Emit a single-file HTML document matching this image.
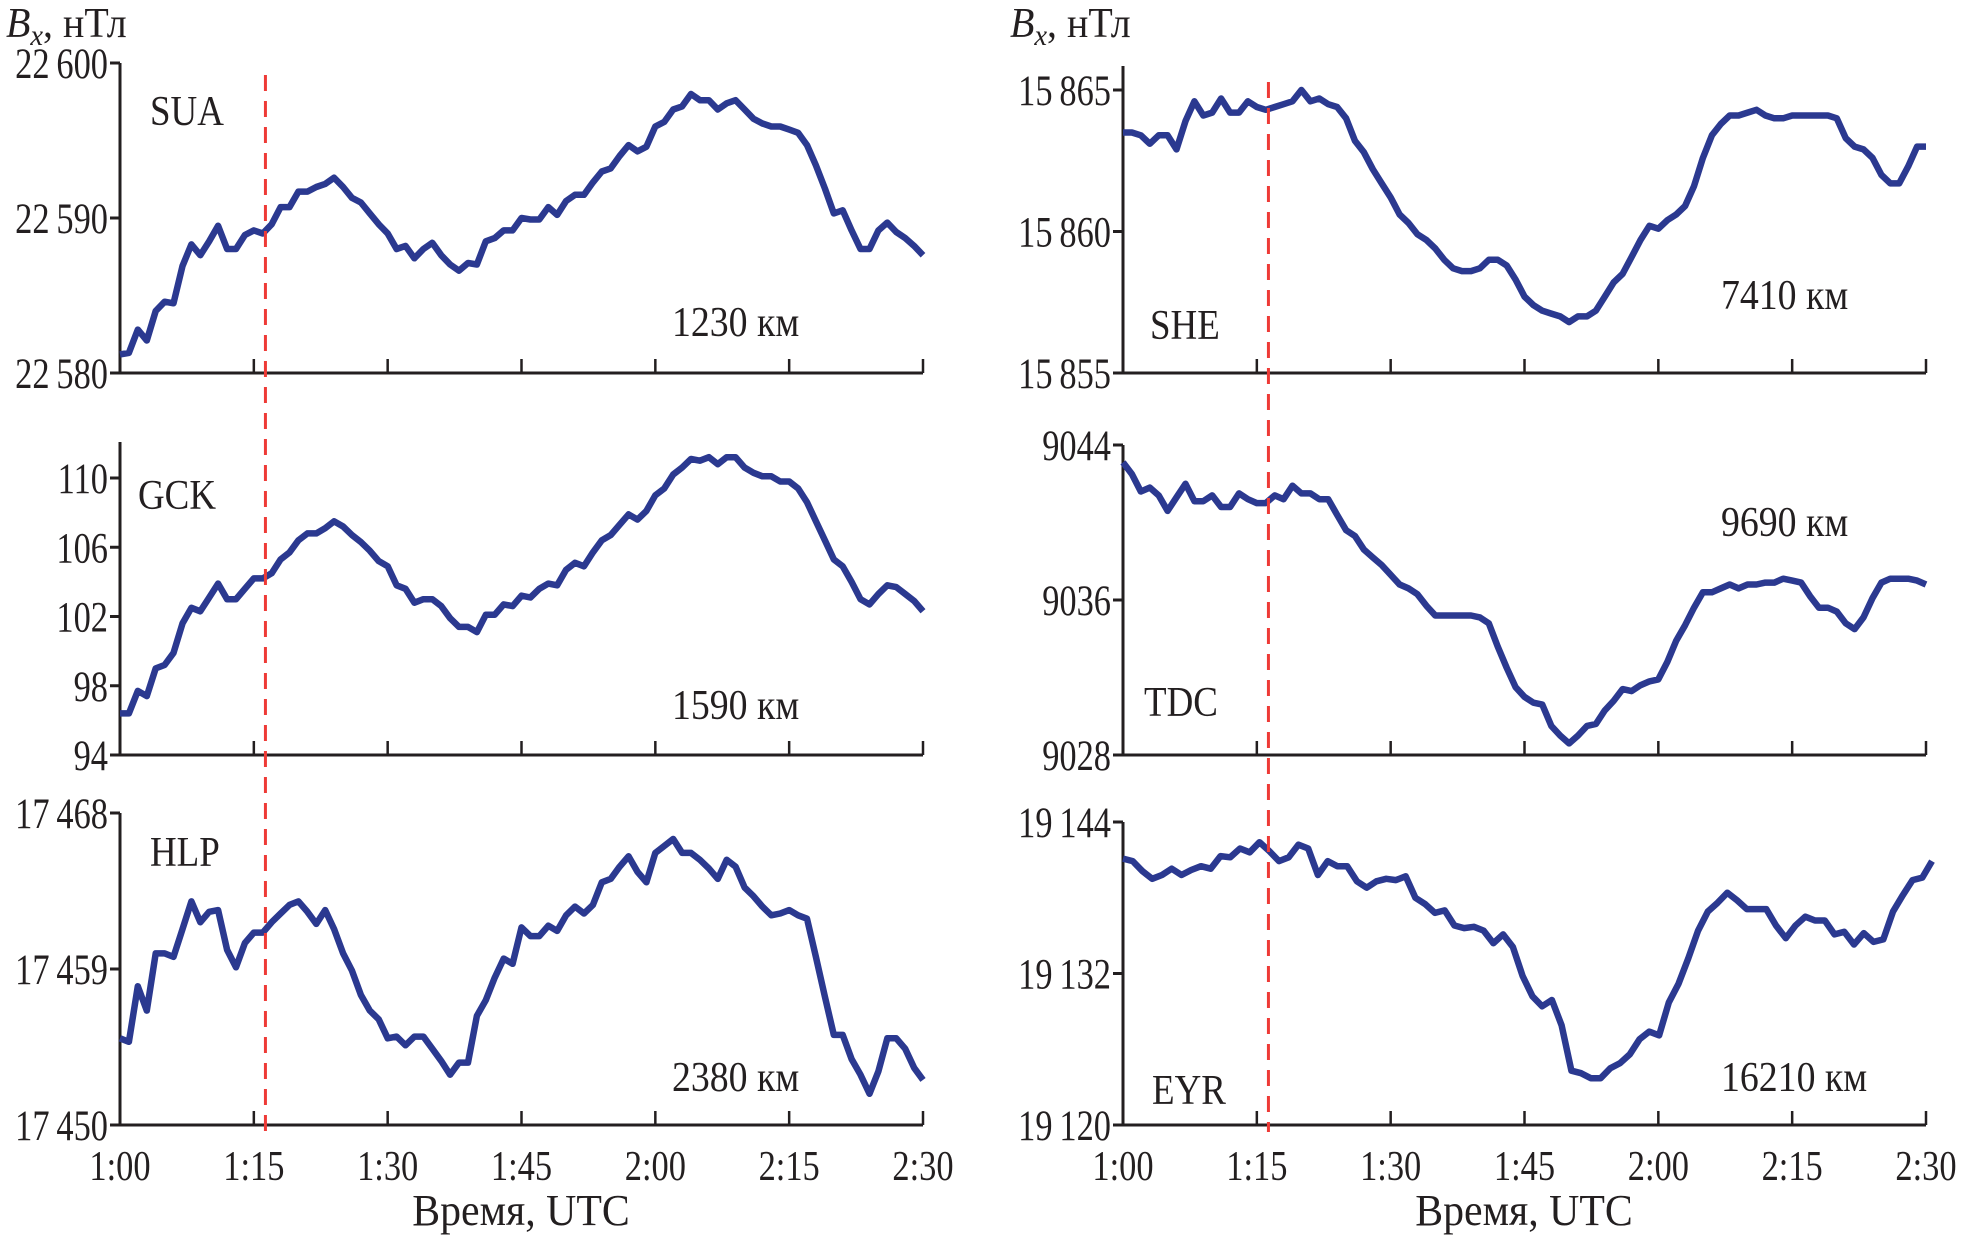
<!DOCTYPE html>
<html><head><meta charset="utf-8"><style>
html,body{margin:0;padding:0;background:#fff;}
svg{display:block;font-family:"Liberation Serif",serif;}
</style></head><body>
<svg id="c" width="1967" height="1235" viewBox="0 0 1967 1235" xmlns="http://www.w3.org/2000/svg"></svg>
<script>
const timeTicks=["1:00","1:15","1:30","1:45","2:00","2:15","2:30"];
const eventMinute=16.3;
const suaValues=[22581.2,22581.3,22582.8,22582.1,22584.0,22584.6,22584.5,22586.9,22588.3,22587.6,22588.5,22589.5,22588.0,22588.0,22588.9,22589.2,22589.0,22589.6,22590.7,22590.7,22591.7,22591.7,22592.0,22592.2,22592.6,22592.0,22591.3,22591.0,22590.3,22589.6,22589.0,22588.0,22588.2,22587.4,22588.0,22588.4,22587.6,22587.0,22586.6,22587.1,22587.0,22588.5,22588.7,22589.2,22589.2,22590.0,22589.9,22589.9,22590.7,22590.2,22591.1,22591.5,22591.5,22592.3,22593.0,22593.2,22594.0,22594.7,22594.3,22594.6,22595.9,22596.2,22597.0,22597.2,22598.0,22597.6,22597.6,22597.0,22597.4,22597.6,22597.0,22596.4,22596.1,22595.9,22595.9,22595.7,22595.5,22594.7,22593.4,22591.9,22590.3,22590.5,22589.2,22588.0,22588.0,22589.2,22589.7,22589.1,22588.7,22588.2,22587.6];
const gckValues=[96.4,96.4,97.7,97.4,99.0,99.2,99.9,101.6,102.5,102.3,103.1,103.9,103.0,103.0,103.6,104.2,104.2,104.5,105.3,105.7,106.4,106.8,106.8,107.1,107.5,107.2,106.7,106.3,105.8,105.2,104.9,103.8,103.6,102.8,103.0,103.0,102.6,101.9,101.4,101.4,101.1,102.1,102.1,102.7,102.6,103.2,103.1,103.6,103.9,103.8,104.7,105.1,104.9,105.7,106.4,106.7,107.3,107.9,107.6,108.1,109.0,109.4,110.2,110.6,111.1,111.0,111.2,110.8,111.2,111.2,110.6,110.3,110.1,110.1,109.8,109.8,109.4,108.6,107.5,106.4,105.3,104.9,104.0,103.0,102.7,103.3,103.8,103.7,103.3,102.9,102.3];
const hlpValues=[17455.0,17454.8,17458.0,17456.6,17459.9,17459.9,17459.7,17461.3,17462.9,17461.7,17462.3,17462.4,17460.1,17459.1,17460.5,17461.1,17461.1,17461.7,17462.2,17462.7,17462.9,17462.3,17461.6,17462.4,17461.3,17459.9,17458.9,17457.5,17456.6,17456.1,17455.0,17455.1,17454.6,17455.1,17455.1,17454.4,17453.7,17452.9,17453.6,17453.6,17456.3,17457.2,17458.5,17459.6,17459.3,17461.4,17460.9,17460.9,17461.5,17461.2,17462.1,17462.6,17462.2,17462.7,17464.0,17464.2,17464.9,17465.5,17464.6,17464.0,17465.7,17466.1,17466.5,17465.7,17465.7,17465.3,17464.8,17464.2,17465.3,17464.9,17463.7,17463.2,17462.6,17462.1,17462.2,17462.4,17462.1,17461.9,17459.7,17457.4,17455.2,17455.2,17453.8,17452.9,17451.8,17453.1,17455.0,17455.0,17454.4,17453.3,17452.6];
const sheValues=[15863.5,15863.5,15863.4,15863.1,15863.4,15863.4,15862.9,15863.9,15864.6,15864.1,15864.2,15864.7,15864.2,15864.2,15864.6,15864.4,15864.3,15864.4,15864.5,15864.6,15865.0,15864.6,15864.7,15864.5,15864.4,15864.0,15863.2,15862.8,15862.2,15861.7,15861.2,15860.6,15860.3,15859.9,15859.7,15859.4,15859.0,15858.7,15858.6,15858.6,15858.7,15859.0,15859.0,15858.8,15858.3,15857.7,15857.4,15857.2,15857.1,15857.0,15856.8,15857.0,15857.0,15857.2,15857.7,15858.2,15858.5,15859.1,15859.7,15860.2,15860.1,15860.4,15860.6,15860.9,15861.6,15862.6,15863.4,15863.8,15864.1,15864.1,15864.2,15864.3,15864.1,15864.0,15864.0,15864.1,15864.1,15864.1,15864.1,15864.1,15864.0,15863.3,15863.0,15862.9,15862.6,15862.0,15861.7,15861.7,15862.3,15863.0,15863.0];
const tdcValues=[9043.1,9042.5,9041.6,9041.8,9041.4,9040.6,9041.3,9042.0,9041.1,9041.1,9041.4,9040.8,9040.8,9041.5,9041.2,9041.0,9041.0,9041.4,9041.2,9041.9,9041.5,9041.5,9041.2,9041.2,9040.4,9039.6,9039.3,9038.6,9038.2,9037.8,9037.3,9036.8,9036.6,9036.3,9035.7,9035.2,9035.2,9035.2,9035.2,9035.2,9035.1,9034.8,9033.6,9032.5,9031.5,9031.0,9030.7,9030.6,9029.5,9029.0,9028.6,9029.0,9029.5,9029.6,9030.3,9030.8,9031.4,9031.3,9031.6,9031.8,9031.9,9032.8,9033.9,9034.7,9035.6,9036.4,9036.4,9036.6,9036.8,9036.6,9036.8,9036.8,9036.9,9036.9,9037.1,9037.0,9036.9,9036.2,9035.6,9035.6,9035.4,9034.8,9034.5,9035.1,9036.1,9036.9,9037.1,9037.1,9037.1,9037.0,9036.8];
const eyrValues=[19141.1,19140.9,19140.1,19139.5,19139.8,19140.3,19139.8,19140.2,19140.5,19140.3,19141.3,19141.2,19141.9,19141.6,19142.4,19141.7,19140.9,19141.2,19142.2,19141.9,19139.8,19140.9,19140.5,19140.5,19139.3,19138.8,19139.3,19139.5,19139.4,19139.7,19138.0,19137.5,19136.8,19137.0,19135.8,19135.6,19135.7,19135.4,19134.4,19135.1,19134.1,19131.8,19130.2,19129.4,19129.9,19127.9,19124.3,19124.1,19123.7,19123.7,19124.5,19124.9,19125.6,19126.8,19127.4,19127.1,19129.7,19131.2,19133.2,19135.4,19136.9,19137.6,19138.4,19137.8,19137.1,19137.1,19137.1,19135.8,19134.8,19135.8,19136.5,19136.2,19136.2,19135.1,19135.3,19134.3,19135.2,19134.5,19134.7,19136.9,19138.2,19139.4,19139.6,19140.9];
const suaTicks=[22600,22590,22580], gckTicks=[110,106,102,98,94], hlpTicks=[17468,17459,17450];
const sheTicks=[15865,15860,15855], tdcTicks=[9044,9036,9028], eyrTicks=[19144,19132,19120];

const svg=document.getElementById('c');
const NS="http://www.w3.org/2000/svg";
function mk(tag,attrs,parent){const e=document.createElementNS(NS,tag);for(const k in attrs)e.setAttribute(k,attrs[k]);(parent||svg).appendChild(e);return e;}
function txt(x,y,size,sx,anchor,parent){return mk('text',{x:0,y:0,transform:`translate(${x} ${y}) scale(${sx} 1)`,'font-size':size,'text-anchor':anchor,fill:'#231f20'},parent);}
function fmt(v){const s=String(v);return s.length>4?s.slice(0,s.length-3)+"\u2009"+s.slice(-3):s;}

const panels=[
 {id:'sua',name:'SUA',dist:'1230 км',vals:suaValues,ticks:suaTicks,x0:120,x1:923,yTop:63,yBot:373,axTop:63,lx:150,ly:125,dx:672,dy:336},
 {id:'gck',name:'GCK',dist:'1590 км',vals:gckValues,ticks:gckTicks,x0:120,x1:923,yTop:478,yBot:755,axTop:442,lx:138,ly:509,dx:672,dy:719},
 {id:'hlp',name:'HLP',dist:'2380 км',vals:hlpValues,ticks:hlpTicks,x0:120,x1:923,yTop:813,yBot:1125,axTop:813,lx:150,ly:866,dx:672,dy:1091},
 {id:'she',name:'SHE',dist:'7410 км',vals:sheValues,ticks:sheTicks,x0:1123,x1:1926,yTop:90,yBot:373,axTop:66,lx:1150,ly:339,dx:1721,dy:309},
 {id:'tdc',name:'TDC',dist:'9690 км',vals:tdcValues,ticks:tdcTicks,x0:1123,x1:1926,yTop:445,yBot:755,axTop:445,lx:1144,ly:716,dx:1721,dy:536},
 {id:'eyr',name:'EYR',dist:'16210 км',vals:eyrValues,ticks:eyrTicks,x0:1123,x1:1932,yTop:822,yBot:1125,axTop:822,lx:1152,ly:1104,dx:1721,dy:1091}
];

panels.forEach(p=>{
  const g=mk('g',{});
  
  
  const vmax=p.ticks[0], vmin=p.ticks[p.ticks.length-1];
  const xEnd=p.x0+803;
  const xs=m=>p.x0+(m/90)*803;
  const ys=v=>p.yBot-(v-vmin)/(vmax-vmin)*(p.yBot-p.yTop);
  const ax=mk('path',{d:`M${p.x0} ${p.axTop}V${p.yBot}H${xEnd}`,fill:'none',stroke:'#231f20','stroke-width':3},g);
  
  
  p.ticks.forEach(t=>{
    const y=ys(t);
    mk('line',{x1:p.x0-10,x2:p.x0,y1:y,y2:y,stroke:'#231f20','stroke-width':3},g);
    const tx=txt(p.x0-12,y+15,43,0.8,'end',g);
    tx.textContent=fmt(t);
    
    
  });
  timeTicks.forEach((t,i)=>{
    if(i===0)return;
    const x=xs(i*15);
    mk('line',{x1:x,x2:x,y1:p.yBot-14,y2:p.yBot,stroke:'#231f20','stroke-width':2.5},g);
  });
  const n=p.vals.length;
  const d=p.vals.map((v,i)=>(i?'L':'M')+(p.x0+(i/(n-1))*(p.x1-p.x0)).toFixed(1)+' '+ys(v).toFixed(1)).join('');
  const line=mk('path',{d:d,fill:'none',stroke:'#2b3990','stroke-width':6.5,'stroke-linejoin':'round'},g);
  
  
  const nm=txt(p.lx,p.ly,42,0.88,'start',g);
  nm.textContent=p.name;
  
  
  const ds=txt(p.dx,p.dy,42,0.9,'start',g);
  ds.textContent=p.dist;
  
  
});

[[120,75],[1123,82]].forEach((c,k)=>{
  const x=c[0]+(eventMinute/90)*803;
  const l=mk('line',{x1:x,x2:x,y1:c[1],y2:1132,stroke:'#ee3a36','stroke-width':3,'stroke-dasharray':'16 10'});
  
  
  timeTicks.forEach((t,i)=>{
    const tx=txt(c[0]+i*803/6,1180,42,0.82,'middle');
    tx.textContent=t;
    
    
  });
  const tt=txt(c[0]+401,1225,44,0.95,'middle');
  tt.textContent='Время, UTC';
  
  
  const yt=txt(k?1010:6,37,42,0.95,'start');
  yt.innerHTML='<tspan font-style="italic">B</tspan><tspan font-style="italic" font-size="30" dy="8">x</tspan><tspan dy="-8">, нТл</tspan>';
  
  
});
</script>
</body></html>
